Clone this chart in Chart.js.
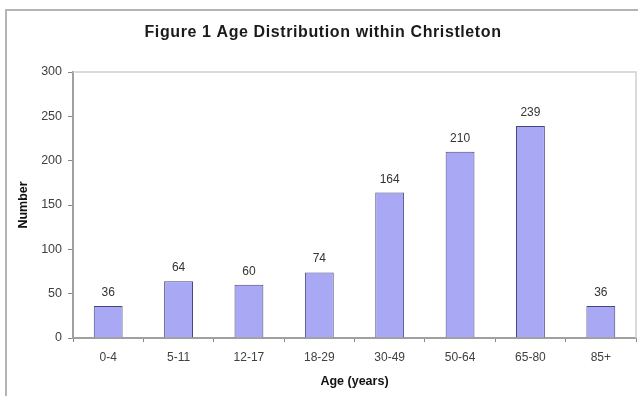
<!DOCTYPE html>
<html>
<head>
<meta charset="utf-8">
<script src="https://cdn.jsdelivr.net/npm/chart.js@4/dist/chart.umd.min.js"></script>
<style>
  html, body { margin: 0; padding: 0; background: #ffffff; }
  #wrap { width: 638px; height: 396px; position: relative; }
</style>
</head>
<body>
<div id="wrap"><canvas id="chart" width="638" height="396"></canvas></div>
<script>
// Age bands and head counts
const ageBands = ['0-4', '5-11', '12-17', '18-29', '30-49', '50-64', '65-80', '85+'];
const residents = [36, 64, 60, 74, 164, 210, 239, 36];
const yTicks = [0, 50, 100, 150, 200, 250, 300];

const chartTitle = 'Figure 1 Age Distribution within Christleton';
const xTitle = 'Age (years)';
const yTitle = 'Number';

const FONT = "'Liberation Sans', Arial, Helvetica, sans-serif";

// Frame around the whole figure plus title text and the plot-area outline
const framePlugin = {
  id: 'frame',
  beforeDraw(chart) {
    const ctx = chart.ctx;
    ctx.save();
    ctx.fillStyle = '#ffffff';
    ctx.fillRect(0, 0, chart.width, chart.height);
    ctx.strokeStyle = '#b4b4b4';
    ctx.lineWidth = 2;
    ctx.beginPath();
    ctx.moveTo(6, chart.height + 2);
    ctx.lineTo(6, 10);
    ctx.lineTo(chart.width + 2, 10);
    ctx.stroke();
    ctx.restore();
  },
  afterDraw(chart) {
    const ctx = chart.ctx;
    const a = chart.chartArea;
    ctx.save();
    ctx.strokeStyle = '#cfcfcf';
    ctx.lineWidth = 1.5;
    ctx.beginPath();
    ctx.moveTo(a.left, a.top);
    ctx.lineTo(a.right, a.top);
    ctx.lineTo(a.right, a.bottom);
    ctx.stroke();

    ctx.fillStyle = '#1a1a1a';
    ctx.font = 'bold 16px ' + FONT;
    if ('letterSpacing' in ctx) ctx.letterSpacing = '0.6px';
    ctx.textAlign = 'center';
    ctx.textBaseline = 'middle';
    ctx.fillText(chartTitle, 323, 33);
    ctx.restore();
  }
};

// Value printed above each bar
const valueLabels = {
  id: 'valueLabels',
  afterDatasetsDraw(chart) {
    const ctx = chart.ctx;
    const meta = chart.getDatasetMeta(0);
    const values = chart.data.datasets[0].data;
    ctx.save();
    ctx.fillStyle = '#333333';
    ctx.font = '12px ' + FONT;
    ctx.textAlign = 'center';
    ctx.textBaseline = 'alphabetic';
    meta.data.forEach((bar, i) => {
      ctx.fillText(String(values[i]), bar.x, bar.y - 10);
    });
    ctx.restore();
  }
};

new Chart(document.getElementById('chart'), {
  type: 'bar',
  data: {
    labels: ageBands,
    datasets: [{
      data: residents,
      backgroundColor: '#a8a8f4',
      borderColor: '#46467f',
      borderWidth: 1,
      barPercentage: 0.41,
      categoryPercentage: 1.0
    }]
  },
  options: {
    responsive: false,
    animation: false,
    devicePixelRatio: 1,
    layout: { padding: { left: 0, right: 2, top: 72, bottom: 0 } },
    plugins: {
      legend: { display: false },
      title: { display: false },
      tooltip: { enabled: false }
    },
    scales: {
      x: {
        afterFit(scale) { scale.height = 58; },
        grid: {
          offset: true,
          drawOnChartArea: false,
          drawTicks: true,
          tickLength: 4,
          color: '#888888',
          lineWidth: 1
        },
        border: { display: true, color: '#a0a0a0', width: 2 },
        ticks: {
          color: '#404040',
          font: { family: FONT, size: 12 },
          padding: 8,
          maxRotation: 0
        },
        title: {
          display: true,
          text: xTitle,
          color: '#111111',
          font: { family: FONT, size: 12.5, weight: 'bold' },
          padding: { top: 0, bottom: 7 }
        }
      },
      y: {
        min: 0,
        max: 300,
        afterFit(scale) { scale.width = 73; },
        afterBuildTicks(scale) { scale.ticks = yTicks.map(v => ({ value: v })); },
        grid: {
          drawOnChartArea: false,
          drawTicks: true,
          tickLength: 5,
          color: '#888888',
          lineWidth: 1
        },
        border: { display: true, color: '#a0a0a0', width: 2 },
        ticks: {
          color: '#404040',
          font: { family: FONT, size: 12.5 },
          padding: 6
        },
        title: {
          display: true,
          text: yTitle,
          color: '#111111',
          font: { family: FONT, size: 12.5, weight: 'bold' },
          padding: { top: 16, bottom: 0 }
        }
      }
    }
  },
  plugins: [framePlugin, valueLabels]
});
</script>
</body>
</html>
